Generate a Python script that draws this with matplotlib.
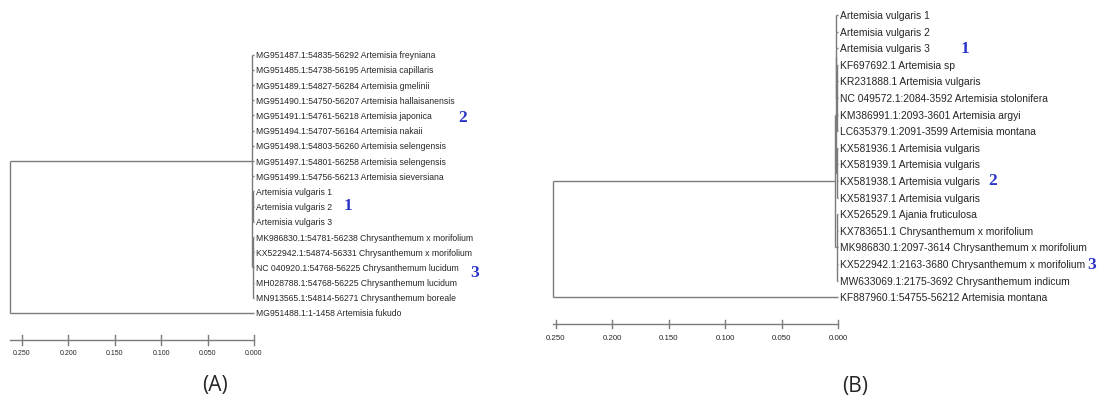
import matplotlib
matplotlib.use("Agg")
import matplotlib.pyplot as plt

# leaf labels, top to bottom
labels_a = [
    "MG951487.1:54835-56292 Artemisia freyniana",
    "MG951485.1:54738-56195 Artemisia capillaris",
    "MG951489.1:54827-56284 Artemisia gmelinii",
    "MG951490.1:54750-56207 Artemisia hallaisanensis",
    "MG951491.1:54761-56218 Artemisia japonica",
    "MG951494.1:54707-56164 Artemisia nakaii",
    "MG951498.1:54803-56260 Artemisia selengensis",
    "MG951497.1:54801-56258 Artemisia selengensis",
    "MG951499.1:54756-56213 Artemisia sieversiana",
    "Artemisia vulgaris 1",
    "Artemisia vulgaris 2",
    "Artemisia vulgaris 3",
    "MK986830.1:54781-56238 Chrysanthemum x morifolium",
    "KX522942.1:54874-56331 Chrysanthemum x morifolium",
    "NC 040920.1:54768-56225 Chrysanthemum lucidum",
    "MH028788.1:54768-56225 Chrysanthemum lucidum",
    "MN913565.1:54814-56271 Chrysanthemum boreale",
    "MG951488.1:1-1458 Artemisia fukudo",
]
labels_b = [
    "Artemisia vulgaris 1",
    "Artemisia vulgaris 2",
    "Artemisia vulgaris 3",
    "KF697692.1 Artemisia sp",
    "KR231888.1 Artemisia vulgaris",
    "NC 049572.1:2084-3592 Artemisia stolonifera",
    "KM386991.1:2093-3601 Artemisia argyi",
    "LC635379.1:2091-3599 Artemisia montana",
    "KX581936.1 Artemisia vulgaris",
    "KX581939.1 Artemisia vulgaris",
    "KX581938.1 Artemisia vulgaris",
    "KX581937.1 Artemisia vulgaris",
    "KX526529.1 Ajania fruticulosa",
    "KX783651.1 Chrysanthemum x morifolium",
    "MK986830.1:2097-3614 Chrysanthemum x morifolium",
    "KX522942.1:2163-3680 Chrysanthemum x morifolium",
    "MW633069.1:2175-3692 Chrysanthemum indicum",
    "KF887960.1:54755-56212 Artemisia montana",
]

# trees: (node height, [children]); ints are leaf rows
tree_a = (0.263, [
    (0.002, [0, 1, 2, 3, 4, 5, 6, 7, 8,
             (0.0015, [9, 10, 11]),
             (0.001, [12, 13, 14, 15, 16])]),
    17,
])
tree_b = (0.2527, [
    (0.0025, [
        (0.002, [
            (0.0015, [0, 1, 2, (0.001, [3, 4, 5, 6, 7])]),
            (0.001, [8, 9, 10, 11]),
        ]),
        (0.001, [12, 13, 14, 15, 16]),
    ]),
    17,
])

scale_ticks = [0.250, 0.200, 0.150, 0.100, 0.050, 0.000]

line_col = "#7b7b7b"
text_col = "#262626"
num_col = "#2b35c8"


def draw_node(ax, node):
    if isinstance(node, int):
        return 0.0, float(node)
    h, kids = node
    pts = [draw_node(ax, k) for k in kids]
    x = -h
    y = (pts[0][1] + pts[-1][1]) / 2.0
    ax.plot([x, x], [pts[0][1], pts[-1][1]], color=line_col, lw=1.0, solid_capstyle="butt")
    for cx, cy in pts:
        ax.plot([x, cx], [cy, cy], color=line_col, lw=1.0, solid_capstyle="butt")
    return x, y


fig = plt.figure(figsize=(11.01, 4.10), dpi=100)

panels = [
    dict(rect=[0, 0, 550 / 1101, 1], xlim=(-0.2737, 0.319), ylim=(23.32, -3.667),
         tree=tree_a, labels=labels_a, fs=6.25, scale_y=18.78, tick_y=19.6, tick_fs=5.0,
         tick_len=0.3, tag="(A)", tag_x=-0.0425, tag_y=21.7,
         nums=[("2", 0.225, 4.1), ("1", 0.101, 9.9), ("3", 0.238, 14.3)]),
    dict(rect=[550 / 1101, 0, 551 / 1101, 1], xlim=(-0.2553, 0.2332), ylim=(23.73, -0.964),
         tree=tree_b, labels=labels_b, fs=7.35, scale_y=18.61, tick_y=19.4, tick_fs=5.7,
         tick_len=0.27, tag="(B)", tag_x=0.0150, tag_y=22.3,
         nums=[("1", 0.1125, 2.0), ("2", 0.1370, 9.95), ("3", 0.2245, 15.0)]),
]

for p in panels:
    ax = fig.add_axes(p["rect"])
    ax.set_xlim(*p["xlim"])
    ax.set_ylim(*p["ylim"])
    ax.axis("off")

    root_h = p["tree"][0]
    draw_node(ax, p["tree"])

    for i, lab in enumerate(p["labels"]):
        ax.annotate(lab, (0.0, i), xytext=(1.6, 0), textcoords="offset points",
                    va="center", ha="left", fontsize=p["fs"], color=text_col,
                    family=["Liberation Sans", "DejaVu Sans"])

    # scale bar
    ax.plot([-root_h, 0.0], [p["scale_y"], p["scale_y"]], color=line_col, lw=1.0)
    for t in scale_ticks:
        ax.plot([-t, -t], [p["scale_y"] - p["tick_len"], p["scale_y"] + p["tick_len"]],
                color=line_col, lw=1.0)
        ax.text(-t, p["tick_y"], "%.3f" % t, ha="center", va="center",
                fontsize=p["tick_fs"], color=text_col, family="Liberation Sans")

    for s, nx, ny in p["nums"]:
        ax.text(nx, ny, s, ha="center", va="center", fontsize=12.5, color=num_col,
                family="Liberation Serif", fontweight="bold")

    ax.text(p["tag_x"], p["tag_y"], p["tag"], ha="center", va="center",
            fontsize=15, color=text_col, family="Open Sans")

fig.savefig("out.png", dpi=100)
